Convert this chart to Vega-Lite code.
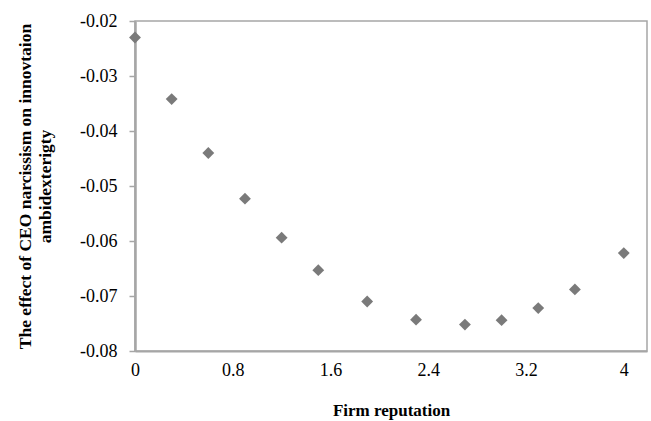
{
  "$schema": "https://vega.github.io/schema/vega-lite/v6.json",
  "width": 512,
  "height": 330,
  "autosize": {"type": "none"},
  "padding": {"left": 135, "top": 21, "right": 4, "bottom": 70},
  "background": "white",
  "config": {
    "view": {"stroke": "#a6a6a6", "strokeWidth": 1.5},
    "font": "Liberation Serif"
  },
  "data": {
    "values": [
      {"rep": 0.0, "effect": -0.0230},
      {"rep": 0.3, "effect": -0.0342},
      {"rep": 0.6, "effect": -0.0440},
      {"rep": 0.9, "effect": -0.0523},
      {"rep": 1.2, "effect": -0.0594},
      {"rep": 1.5, "effect": -0.0653},
      {"rep": 1.9, "effect": -0.0710},
      {"rep": 2.3, "effect": -0.0743},
      {"rep": 2.7, "effect": -0.0752},
      {"rep": 3.0, "effect": -0.0744},
      {"rep": 3.3, "effect": -0.0722},
      {"rep": 3.6, "effect": -0.0688},
      {"rep": 4.0, "effect": -0.0622}
    ]
  },
  "mark": {"type": "point", "shape": "diamond", "filled": true, "color": "#7a7a7a", "opacity": 1, "size": 140},
  "encoding": {
    "x": {
      "field": "rep",
      "type": "quantitative",
      "scale": {"domain": [0, 4.19], "nice": false, "zero": false},
      "axis": {
        "title": "Firm reputation",
        "values": [0, 0.8, 1.6, 2.4, 3.2, 4],
        "format": "",
        "grid": false,
        "ticks": false,
        "domainColor": "#a6a6a6",
        "domainWidth": 2,
        "labelFont": "Liberation Serif",
        "labelFontSize": 18,
        "labelColor": "#000",
        "labelPadding": 10,
        "labelFlush": false,
        "titleFont": "Liberation Serif",
        "titleFontSize": 17,
        "titleFontWeight": "bold",
        "titleColor": "#000",
        "titlePadding": 23
      }
    },
    "y": {
      "field": "effect",
      "type": "quantitative",
      "scale": {"domain": [-0.08, -0.02], "nice": false, "zero": false},
      "axis": {
        "title": ["The effect of CEO narcissism on innovtaion", "ambidexterigty"],
        "values": [-0.08, -0.07, -0.06, -0.05, -0.04, -0.03, -0.02],
        "labelExpr": "replace(format(datum.value, '.2f'), '\u2212', '-')",
        "grid": false,
        "ticks": true,
        "tickSize": 6,
        "tickColor": "#a6a6a6",
        "tickWidth": 1.5,
        "domainColor": "#a6a6a6",
        "domainWidth": 2.5,
        "labelFont": "Liberation Serif",
        "labelFontSize": 18,
        "labelColor": "#000",
        "labelPadding": 12,
        "labelFlush": false,
        "titleFont": "Liberation Serif",
        "titleFontSize": 17.5,
        "titleFontWeight": "bold",
        "titleColor": "#000",
        "titleLineHeight": 20,
        "titlePadding": 25
      }
    }
  }
}
